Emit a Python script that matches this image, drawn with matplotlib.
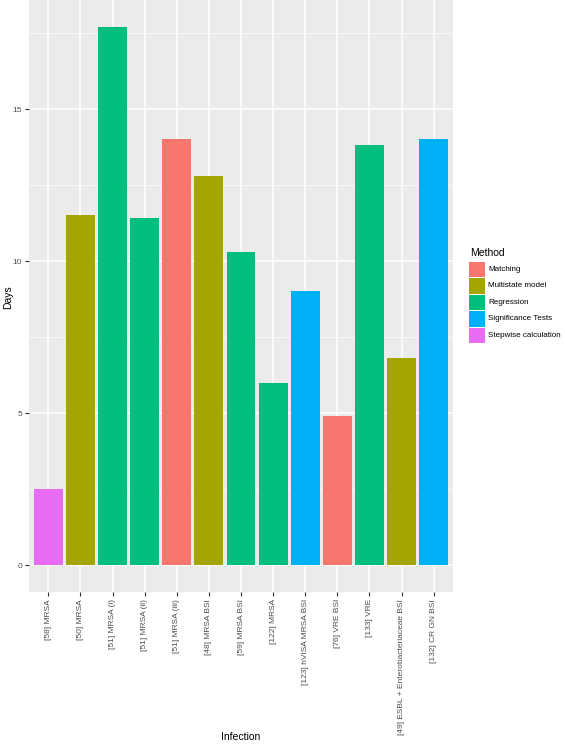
import matplotlib
matplotlib.use("Agg")
import matplotlib.pyplot as plt
from matplotlib.patches import Rectangle

plt.rcParams["font.family"] = ["Liberation Sans", "DejaVu Sans"]

categories = ["[58] MRSA", "[50] MRSA", "[51] MRSA (i)", "[51] MRSA (ii)", "[51] MRSA (iii)",
              "[48] MRSA BSI", "[59] MRSA BSI", "[122] MRSA", "[123] hVISA MRSA BSI",
              "[76] VRE BSI", "[133] VRE", "[49] ESBL + Enterobacteriaceae BSI", "[132] CR GN BSI"]
days = [2.5, 11.5, 17.7, 11.4, 14.0, 12.8, 10.3, 6.0, 9.0, 4.9, 13.8, 6.8, 14.0]
methods = ["Stepwise calculation", "Multistate model", "Regression", "Regression", "Matching",
           "Multistate model", "Regression", "Regression", "Significance Tests",
           "Matching", "Regression", "Multistate model", "Significance Tests"]
method_levels = ["Matching", "Multistate model", "Regression", "Significance Tests", "Stepwise calculation"]
palette = ["#F8766D", "#A3A500", "#00BF7D", "#00B0F6", "#E76BF3"]
cmap = dict(zip(method_levels, palette))

W, H = 565, 746
fig = plt.figure(figsize=(W/100, H/100), dpi=100)
l, r, t, b = 29, 453, 0, 592
ax = fig.add_axes([l/W, 1 - b/H, (r-l)/W, (b-t)/H])
ax.set_facecolor("#EBEBEB")
x = list(range(len(categories)))
ax.bar(x, days, width=0.9, color=[cmap[m] for m in methods], zorder=3)
ymax = max(days)
ax.set_ylim(-0.05*ymax, ymax*1.05)
ax.set_xlim(-0.6, len(categories) - 1 + 0.6)
ax.set_yticks([0, 5, 10, 15])
ax.set_yticks([2.5, 7.5, 12.5, 17.5], minor=True)
ax.set_xticks(x)
ax.set_xticklabels(categories, rotation=90, fontsize=6.0, color="#4D4D4D")
ax.tick_params(axis="y", labelsize=6.0, labelcolor="#4D4D4D", colors="#333333", length=3, width=0.8, pad=2)
ax.tick_params(axis="x", colors="#333333", length=3, width=0.8, labelcolor="#4D4D4D", pad=2)
ax.tick_params(axis="y", which="minor", length=0)
ax.grid(True, which="major", color="white", linewidth=1.1, zorder=0)
ax.grid(True, which="minor", axis="y", color="white", linewidth=0.5, zorder=0)
for s in ax.spines.values():
    s.set_visible(False)
ax.set_axisbelow(True)
fig.text(241/W, 1 - 737/H, "Infection", ha="center", va="center", fontsize=7.5)
fig.text(8/W, 1 - 297/H, "Days", ha="center", va="center", rotation=90, fontsize=7.5)

# legend drawn in figure pixel coordinates
fig.text(470/W, 1 - 253/H, "Method", ha="left", va="center", fontsize=7.5)
key_x0, key_w, key_y0, key_h = 469, 16, 261, 16.5
for i, (m, c) in enumerate(zip(method_levels, palette)):
    y_top = key_y0 + i*key_h
    fig.add_artist(Rectangle((key_x0/W, 1 - (y_top + key_h - 0.5)/H), key_w/W, (key_h - 1)/H,
                             transform=fig.transFigure, facecolor=c, edgecolor="none"))
    fig.text(488/W, 1 - (y_top + key_h/2)/H, m, ha="left", va="center", fontsize=5.8)
fig.savefig("out.png", dpi=100)
